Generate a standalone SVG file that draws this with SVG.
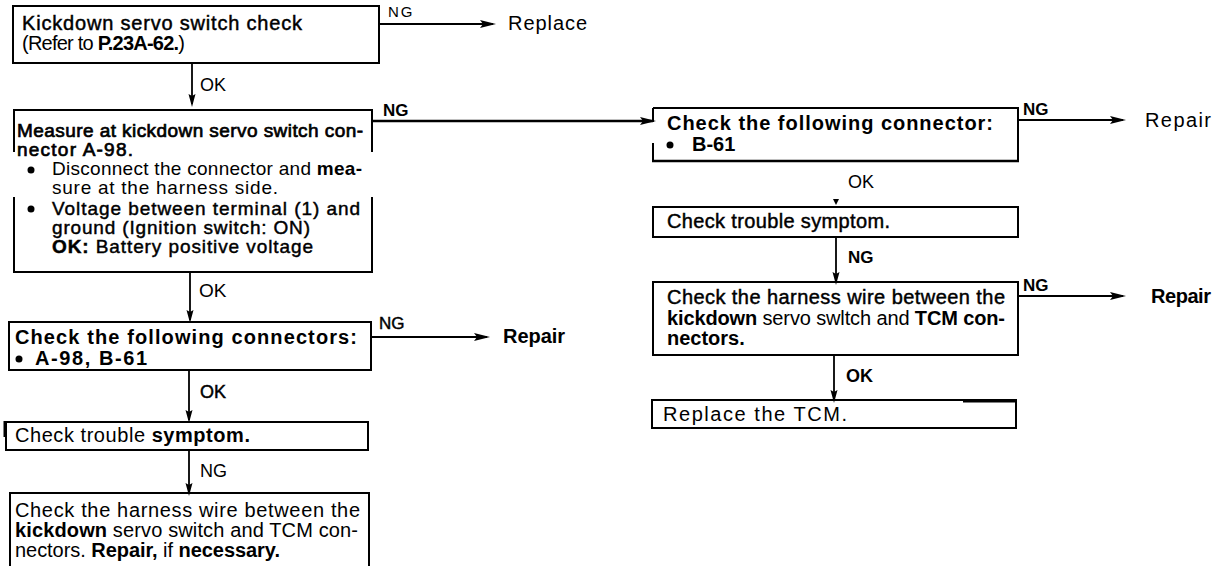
<svg xmlns="http://www.w3.org/2000/svg" width="1218" height="566" viewBox="0 0 1218 566">
<style>
text{font-family:"Liberation Sans",Arial,Helvetica,sans-serif;font-size:18px;fill:#000}
.t{font-size:20px}
.s{font-size:19px}
.b{font-weight:bold}
.m{stroke:#000;stroke-width:0.45}
.lbl{font-size:17px}
.box{fill:none;stroke:#000;stroke-width:2}
.ln{fill:none;stroke:#000;stroke-width:2}
.c{stroke:#000;stroke-width:1.8;fill:none}
.ch{marker-end:url(#ah)}
.cd{marker-end:url(#ad)}
</style>
<defs>
<marker id="ah" viewBox="0 0 16 10" refX="13" refY="5" markerWidth="16" markerHeight="10" markerUnits="userSpaceOnUse" orient="auto"><path d="M0,1 L16,5 L0,9 L3,5 Z" fill="#000"/></marker>
<marker id="ad" viewBox="0 0 13 8" refX="10" refY="4" markerWidth="13" markerHeight="8" markerUnits="userSpaceOnUse" orient="auto"><path d="M0,0.5 L13,4 L0,7.5 L2,4 Z" fill="#000"/></marker>
</defs>

<g id="connectors">
<line class="c ch" x1="379" y1="24" x2="493" y2="24"/>
<line class="c cd" x1="192" y1="63" x2="192" y2="104"/>
<line class="c ch" x1="373" y1="121" x2="653" y2="121" style="stroke-width:2.6"/>
<line class="c cd" x1="190" y1="272" x2="190" y2="320"/>
<line class="c ch" x1="371" y1="337" x2="487" y2="337"/>
<line class="c cd" x1="189" y1="370" x2="189" y2="420"/>
<line class="c cd" x1="189" y1="450" x2="189" y2="493"/>
<line class="c ch" x1="1018" y1="120" x2="1123" y2="120"/>
<path d="M833,199 L839,199 L836,205 Z" fill="#000"/>
<line class="c cd" x1="836" y1="237" x2="836" y2="282"/>
<line class="c ch" x1="1018" y1="296" x2="1123" y2="296"/>
<line class="c cd" x1="834" y1="355" x2="834" y2="400"/>
<text x="388" y="17" style="font-size:15px;letter-spacing:2px">NG</text>
<text x="200" y="91">OK</text>
<text x="383" y="116" class="b lbl">NG</text>
<text x="199" y="297" style="font-size:19px">OK</text>
<text x="379" y="329" class="lbl m">NG</text>
<text x="200" y="398" class="m">OK</text>
<text x="200" y="477">NG</text>
<text x="1023" y="115" class="b lbl">NG</text>
<text x="848" y="188">OK</text>
<text x="848" y="263" class="b lbl">NG</text>
<text x="1023" y="291" class="b lbl">NG</text>
<text x="846" y="382" class="b">OK</text>
</g>

<g id="n1">
<rect class="box" x="13" y="6" width="366" height="57"/>
<text x="22" y="30" class="t m" textLength="280" lengthAdjust="spacing">Kickdown servo switch check</text>
<text x="22" y="50" class="t" textLength="163" lengthAdjust="spacing">(Refer to <tspan class="b">P.23A-62.</tspan>)</text>
</g>

<g id="replace">
<text x="508" y="30" class="t" textLength="79" lengthAdjust="spacing">Replace</text>
</g>

<g id="n2">
<path class="ln" d="M13,110 H373 M14,110 V152 M14,197 V272 M372,110 V152 M372,197 V272 M13,272 H373"/>
<text x="17" y="137" class="s m" textLength="346" lengthAdjust="spacing" style="stroke-width:0.7">Measure at kickdown servo switch con-</text>
<text x="17" y="156" class="s m" textLength="116" lengthAdjust="spacing" style="stroke-width:0.7">nector A-98.</text>
<circle cx="31" cy="170" r="3.5"/>
<text x="52" y="175" class="s" textLength="310" lengthAdjust="spacing">Disconnect the connector and <tspan class="b">mea-</tspan></text>
<text x="52" y="194" class="s" textLength="226" lengthAdjust="spacing">sure at the harness side.</text>
<circle cx="31" cy="209" r="3.5"/>
<text x="52" y="215" class="s m" textLength="308" lengthAdjust="spacing">Voltage between terminal (1) and</text>
<text x="52" y="234" class="s m" textLength="258" lengthAdjust="spacing">ground (Ignition switch: ON)</text>
<text x="52" y="253" class="s m" textLength="261" lengthAdjust="spacing"><tspan class="b">OK:</tspan> Battery positive voltage</text>
</g>

<g id="n3">
<rect class="box" x="9" y="322" width="362" height="48"/>
<text x="15" y="344" class="t b" textLength="342" lengthAdjust="spacing">Check the following connectors:</text>
<circle cx="19" cy="359" r="3.5"/>
<text x="35" y="365" class="t b" textLength="112" lengthAdjust="spacing">A-98, B-61</text>
</g>

<g id="repair1">
<text x="503" y="343" class="t b" textLength="62" lengthAdjust="spacing">Repair</text>
</g>

<g id="n4">
<rect class="box" x="6" y="422" width="362" height="28"/>
<line x1="5" y1="421" x2="5" y2="437" stroke="#000" stroke-width="3"/>
<text x="15" y="442" class="t" textLength="235" lengthAdjust="spacing">Check trouble <tspan class="b">symptom.</tspan></text>
</g>

<g id="n5">
<path class="ln" d="M10,566 V493 H369 V566"/>
<text x="15" y="517" class="t" textLength="345" lengthAdjust="spacing">Check the harness wire between the</text>
<text x="15" y="537" class="t" textLength="343" lengthAdjust="spacing"><tspan class="b">kickdown</tspan> servo switch and TCM con-</text>
<text x="15" y="557" class="t" textLength="265" lengthAdjust="spacing">nectors.  <tspan class="b">Repair,</tspan> if <tspan class="b">necessary.</tspan></text>
</g>

<g id="r1">
<path class="ln" d="M653,108 H1018 V161 M653,108 V122 M653,143 V161"/>
<line x1="652" y1="161" x2="1019" y2="161" stroke="#000" stroke-width="2.6"/>
<text x="667" y="130" class="t b" textLength="326" lengthAdjust="spacing">Check the following connector:</text>
<circle cx="670" cy="145" r="3.5"/>
<text x="692" y="151" class="t b">B-61</text>
</g>

<g id="repair2">
<text x="1145" y="127" class="t" textLength="66" lengthAdjust="spacing">Repair</text>
</g>

<g id="r2">
<rect class="box" x="653" y="207" width="365" height="30"/>
<text x="667" y="228" class="t m" textLength="223" lengthAdjust="spacing">Check trouble symptom.</text>
</g>

<g id="r3">
<rect class="box" x="653" y="282" width="365" height="73"/>
<text x="667" y="304" class="t m" textLength="338" lengthAdjust="spacing">Check the harness wire between the</text>
<text x="667" y="325" class="t" textLength="338" lengthAdjust="spacing"><tspan class="b">kickdown</tspan> servo swltch and <tspan class="b">TCM con-</tspan></text>
<text x="667" y="345" class="t b">nectors.</text>
</g>

<g id="repair3">
<text x="1151" y="303" class="t b" textLength="60" lengthAdjust="spacing">Repair</text>
</g>

<g id="r4">
<rect class="box" x="652" y="400" width="364" height="28"/>
<line x1="963" y1="401" x2="1016" y2="401" stroke="#000" stroke-width="3"/>
<text x="663" y="421" class="t" textLength="184" lengthAdjust="spacing">Replace the TCM.</text>
</g>
</svg>
